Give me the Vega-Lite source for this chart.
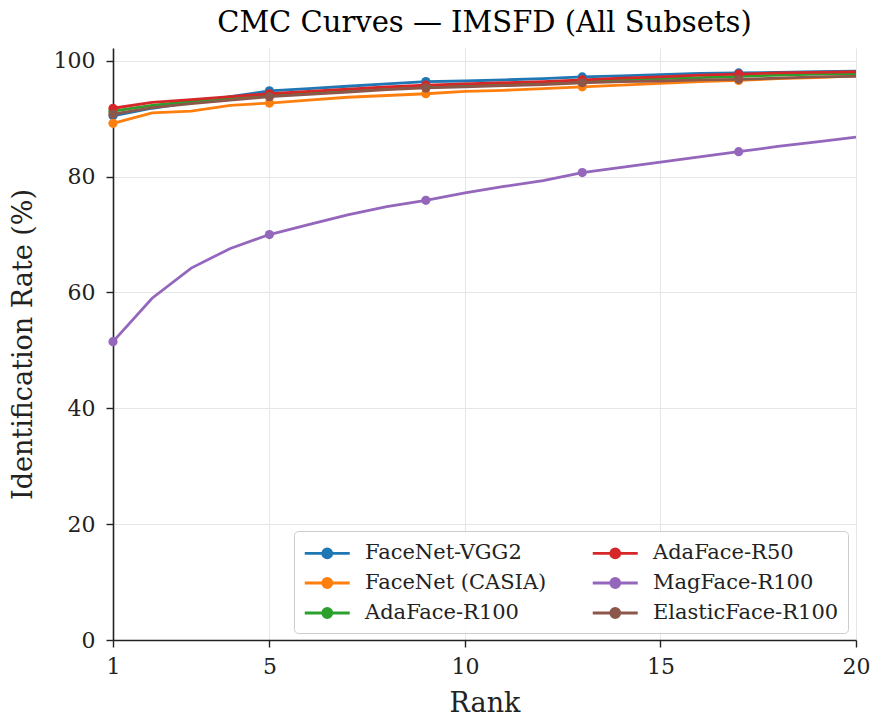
{
  "$schema": "https://vega.github.io/schema/vega-lite/v6.json",
  "autosize": {"type": "none"},
  "padding": {"left": 113, "top": 48, "right": 16, "bottom": 77},
  "width": 743,
  "height": 592,
  "background": "white",
  "title": {"text": "CMC Curves — IMSFD (All Subsets)", "font": "DejaVu Serif", "fontSize": 29, "fontWeight": "normal", "color": "#000000", "offset": 10},
  "config": {
    "view": {"stroke": null},
    "font": "DejaVu Serif",
    "axis": {
      "labelFont": "DejaVu Serif", "labelFontSize": 22, "labelColor": "#222222",
      "titleFont": "DejaVu Serif", "titleFontSize": 27, "titleFontWeight": "normal", "titleColor": "#222222",
      "domainColor": "#222222", "domainWidth": 1.6, "tickColor": "#222222", "tickWidth": 1.4, "tickSize": 7,
      "gridColor": "#e6e6e6", "gridWidth": 1, "labelFlush": false
    }
  },
  "data": {"values": [
    {"model": "FaceNet-VGG2", "rank": 1, "rate": 90.5}, {"model": "FaceNet-VGG2", "rank": 2, "rate": 91.8}, {"model": "FaceNet-VGG2", "rank": 3, "rate": 92.8}, {"model": "FaceNet-VGG2", "rank": 4, "rate": 93.8}, {"model": "FaceNet-VGG2", "rank": 5, "rate": 94.8}, {"model": "FaceNet-VGG2", "rank": 6, "rate": 95.2}, {"model": "FaceNet-VGG2", "rank": 7, "rate": 95.6}, {"model": "FaceNet-VGG2", "rank": 8, "rate": 96.0}, {"model": "FaceNet-VGG2", "rank": 9, "rate": 96.4}, {"model": "FaceNet-VGG2", "rank": 10, "rate": 96.5}, {"model": "FaceNet-VGG2", "rank": 11, "rate": 96.7}, {"model": "FaceNet-VGG2", "rank": 12, "rate": 96.9}, {"model": "FaceNet-VGG2", "rank": 13, "rate": 97.2}, {"model": "FaceNet-VGG2", "rank": 14, "rate": 97.4}, {"model": "FaceNet-VGG2", "rank": 15, "rate": 97.6}, {"model": "FaceNet-VGG2", "rank": 16, "rate": 97.8}, {"model": "FaceNet-VGG2", "rank": 17, "rate": 97.9}, {"model": "FaceNet-VGG2", "rank": 18, "rate": 98.0}, {"model": "FaceNet-VGG2", "rank": 19, "rate": 98.1}, {"model": "FaceNet-VGG2", "rank": 20, "rate": 98.2},
    {"model": "FaceNet (CASIA)", "rank": 1, "rate": 89.2}, {"model": "FaceNet (CASIA)", "rank": 2, "rate": 91.0}, {"model": "FaceNet (CASIA)", "rank": 3, "rate": 91.3}, {"model": "FaceNet (CASIA)", "rank": 4, "rate": 92.3}, {"model": "FaceNet (CASIA)", "rank": 5, "rate": 92.7}, {"model": "FaceNet (CASIA)", "rank": 6, "rate": 93.2}, {"model": "FaceNet (CASIA)", "rank": 7, "rate": 93.7}, {"model": "FaceNet (CASIA)", "rank": 8, "rate": 94.0}, {"model": "FaceNet (CASIA)", "rank": 9, "rate": 94.3}, {"model": "FaceNet (CASIA)", "rank": 10, "rate": 94.7}, {"model": "FaceNet (CASIA)", "rank": 11, "rate": 94.9}, {"model": "FaceNet (CASIA)", "rank": 12, "rate": 95.2}, {"model": "FaceNet (CASIA)", "rank": 13, "rate": 95.5}, {"model": "FaceNet (CASIA)", "rank": 14, "rate": 95.8}, {"model": "FaceNet (CASIA)", "rank": 15, "rate": 96.1}, {"model": "FaceNet (CASIA)", "rank": 16, "rate": 96.4}, {"model": "FaceNet (CASIA)", "rank": 17, "rate": 96.6}, {"model": "FaceNet (CASIA)", "rank": 18, "rate": 96.9}, {"model": "FaceNet (CASIA)", "rank": 19, "rate": 97.1}, {"model": "FaceNet (CASIA)", "rank": 20, "rate": 97.4},
    {"model": "AdaFace-R100", "rank": 1, "rate": 91.3}, {"model": "AdaFace-R100", "rank": 2, "rate": 92.3}, {"model": "AdaFace-R100", "rank": 3, "rate": 93.0}, {"model": "AdaFace-R100", "rank": 4, "rate": 93.6}, {"model": "AdaFace-R100", "rank": 5, "rate": 94.1}, {"model": "AdaFace-R100", "rank": 6, "rate": 94.5}, {"model": "AdaFace-R100", "rank": 7, "rate": 94.9}, {"model": "AdaFace-R100", "rank": 8, "rate": 95.3}, {"model": "AdaFace-R100", "rank": 9, "rate": 95.6}, {"model": "AdaFace-R100", "rank": 10, "rate": 95.8}, {"model": "AdaFace-R100", "rank": 11, "rate": 96.0}, {"model": "AdaFace-R100", "rank": 12, "rate": 96.2}, {"model": "AdaFace-R100", "rank": 13, "rate": 96.5}, {"model": "AdaFace-R100", "rank": 14, "rate": 96.7}, {"model": "AdaFace-R100", "rank": 15, "rate": 96.9}, {"model": "AdaFace-R100", "rank": 16, "rate": 97.1}, {"model": "AdaFace-R100", "rank": 17, "rate": 97.3}, {"model": "AdaFace-R100", "rank": 18, "rate": 97.5}, {"model": "AdaFace-R100", "rank": 19, "rate": 97.7}, {"model": "AdaFace-R100", "rank": 20, "rate": 97.8},
    {"model": "AdaFace-R50", "rank": 1, "rate": 91.8}, {"model": "AdaFace-R50", "rank": 2, "rate": 92.8}, {"model": "AdaFace-R50", "rank": 3, "rate": 93.3}, {"model": "AdaFace-R50", "rank": 4, "rate": 93.8}, {"model": "AdaFace-R50", "rank": 5, "rate": 94.3}, {"model": "AdaFace-R50", "rank": 6, "rate": 94.7}, {"model": "AdaFace-R50", "rank": 7, "rate": 95.1}, {"model": "AdaFace-R50", "rank": 8, "rate": 95.5}, {"model": "AdaFace-R50", "rank": 9, "rate": 95.8}, {"model": "AdaFace-R50", "rank": 10, "rate": 96.0}, {"model": "AdaFace-R50", "rank": 11, "rate": 96.2}, {"model": "AdaFace-R50", "rank": 12, "rate": 96.4}, {"model": "AdaFace-R50", "rank": 13, "rate": 96.7}, {"model": "AdaFace-R50", "rank": 14, "rate": 97.0}, {"model": "AdaFace-R50", "rank": 15, "rate": 97.2}, {"model": "AdaFace-R50", "rank": 16, "rate": 97.5}, {"model": "AdaFace-R50", "rank": 17, "rate": 97.7}, {"model": "AdaFace-R50", "rank": 18, "rate": 97.9}, {"model": "AdaFace-R50", "rank": 19, "rate": 98.0}, {"model": "AdaFace-R50", "rank": 20, "rate": 98.1},
    {"model": "MagFace-R100", "rank": 1, "rate": 51.5}, {"model": "MagFace-R100", "rank": 2, "rate": 59.0}, {"model": "MagFace-R100", "rank": 3, "rate": 64.2}, {"model": "MagFace-R100", "rank": 4, "rate": 67.6}, {"model": "MagFace-R100", "rank": 5, "rate": 70.0}, {"model": "MagFace-R100", "rank": 6, "rate": 71.7}, {"model": "MagFace-R100", "rank": 7, "rate": 73.4}, {"model": "MagFace-R100", "rank": 8, "rate": 74.8}, {"model": "MagFace-R100", "rank": 9, "rate": 75.9}, {"model": "MagFace-R100", "rank": 10, "rate": 77.2}, {"model": "MagFace-R100", "rank": 11, "rate": 78.3}, {"model": "MagFace-R100", "rank": 12, "rate": 79.3}, {"model": "MagFace-R100", "rank": 13, "rate": 80.7}, {"model": "MagFace-R100", "rank": 14, "rate": 81.6}, {"model": "MagFace-R100", "rank": 15, "rate": 82.5}, {"model": "MagFace-R100", "rank": 16, "rate": 83.4}, {"model": "MagFace-R100", "rank": 17, "rate": 84.3}, {"model": "MagFace-R100", "rank": 18, "rate": 85.2}, {"model": "MagFace-R100", "rank": 19, "rate": 86.0}, {"model": "MagFace-R100", "rank": 20, "rate": 86.8},
    {"model": "ElasticFace-R100", "rank": 1, "rate": 90.8}, {"model": "ElasticFace-R100", "rank": 2, "rate": 91.9}, {"model": "ElasticFace-R100", "rank": 3, "rate": 92.6}, {"model": "ElasticFace-R100", "rank": 4, "rate": 93.2}, {"model": "ElasticFace-R100", "rank": 5, "rate": 93.8}, {"model": "ElasticFace-R100", "rank": 6, "rate": 94.2}, {"model": "ElasticFace-R100", "rank": 7, "rate": 94.6}, {"model": "ElasticFace-R100", "rank": 8, "rate": 95.0}, {"model": "ElasticFace-R100", "rank": 9, "rate": 95.3}, {"model": "ElasticFace-R100", "rank": 10, "rate": 95.5}, {"model": "ElasticFace-R100", "rank": 11, "rate": 95.7}, {"model": "ElasticFace-R100", "rank": 12, "rate": 95.9}, {"model": "ElasticFace-R100", "rank": 13, "rate": 96.2}, {"model": "ElasticFace-R100", "rank": 14, "rate": 96.4}, {"model": "ElasticFace-R100", "rank": 15, "rate": 96.5}, {"model": "ElasticFace-R100", "rank": 16, "rate": 96.7}, {"model": "ElasticFace-R100", "rank": 17, "rate": 96.8}, {"model": "ElasticFace-R100", "rank": 18, "rate": 97.0}, {"model": "ElasticFace-R100", "rank": 19, "rate": 97.2}, {"model": "ElasticFace-R100", "rank": 20, "rate": 97.3}
  ]},
  "encoding": {
    "x": {"field": "rank", "type": "quantitative", "title": "Rank",
      "scale": {"domain": [1, 20], "nice": false, "zero": false},
      "axis": {"values": [1, 5, 10, 15, 20], "labelPadding": 9, "titlePadding": 13, "grid": true}},
    "y": {"field": "rate", "type": "quantitative", "title": "Identification Rate (%)",
      "scale": {"domain": [0, 102.2], "nice": false},
      "axis": {"values": [0, 20, 40, 60, 80, 100], "labelPadding": 11, "titlePadding": 16, "grid": true}},
    "color": {"field": "model", "type": "nominal",
      "scale": {
        "domain": ["FaceNet-VGG2", "AdaFace-R50", "FaceNet (CASIA)", "MagFace-R100", "AdaFace-R100", "ElasticFace-R100"],
        "range": ["#1f77b4", "#d62728", "#ff7f0e", "#9467bd", "#2ca02c", "#8c564b"]
      },
      "legend": {
        "title": null, "orient": "none", "legendX": 181, "legendY": 483, "columns": 2,
        "direction": "horizontal",
        "symbolType": "M-1,0L3,0M1.4,0A0.4,0.4,0,1,1,0.6,0A0.4,0.4,0,1,1,1.4,0Z",
        "symbolSize": 506, "symbolStrokeWidth": 2.8,
        "labelFont": "DejaVu Serif", "labelFontSize": 21, "labelColor": "#222222", "labelOffset": 36, "labelLimit": 400,
        "columnPadding": 40, "rowPadding": 6, "padding": 9,
        "strokeColor": "#cccccc", "fillColor": "rgba(255,255,255,0.85)", "cornerRadius": 4,
        "encode": {"symbols": {"update": {"fill": {"scale": "color", "field": "value"}, "stroke": {"scale": "color", "field": "value"}, "opacity": {"value": 1}}}}
      }
    }
  },
  "layer": [
    {"mark": {"type": "line", "strokeWidth": 2.8}},
    {"transform": [{"filter": "datum.rank % 4 == 1"}], "mark": {"type": "point", "filled": true, "size": 85, "opacity": 1}}
  ]
}
